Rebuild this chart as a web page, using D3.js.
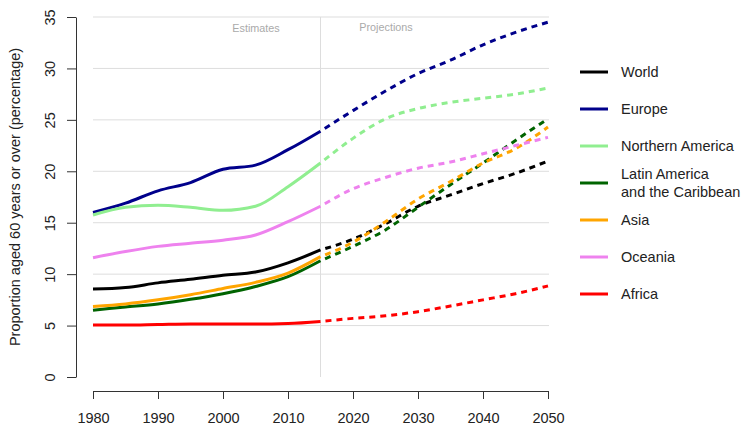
<!DOCTYPE html>
<html>
<head>
<meta charset="utf-8">
<script src="https://cdn.jsdelivr.net/npm/d3@7"></script>
<style>
    body { margin: 0; background: #fff; }
    svg { font-family: "Liberation Sans", Arial, sans-serif; }
</style>
</head>
<body>
<svg id="chart" width="742" height="425"></svg>
<script>
// Years (5-year steps); 2015 is the last estimate
const years = [1980, 1985, 1990, 1995, 2000, 2005, 2010, 2015, 2020, 2025, 2030, 2035, 2040, 2045, 2050];
const splitYear = 2015;

const world = [8.55, 8.7, 9.15, 9.5, 9.9, 10.2, 11.1, 12.35, 13.4, 14.9, 16.6, 17.7, 18.8, 19.8, 21.0];
const europe = [16.0, 16.9, 18.1, 18.9, 20.2, 20.6, 22.1, 23.9, 25.9, 27.8, 29.5, 30.8, 32.3, 33.5, 34.5];
const northAmerica = [15.75, 16.5, 16.7, 16.5, 16.2, 16.6, 18.5, 20.8, 23.2, 25.1, 26.1, 26.7, 27.1, 27.5, 28.1];
const latinAmerica = [6.5, 6.8, 7.1, 7.55, 8.1, 8.8, 9.75, 11.3, 12.7, 14.3, 16.5, 18.7, 20.8, 23.0, 25.1];
const asia = [6.85, 7.1, 7.5, 8.0, 8.6, 9.2, 10.1, 11.7, 13.1, 15.1, 17.3, 19.0, 20.8, 22.2, 24.3];
const oceania = [11.6, 12.2, 12.7, 13.0, 13.3, 13.8, 15.1, 16.6, 18.3, 19.4, 20.3, 20.9, 21.7, 22.5, 23.3];
const africa = [5.05, 5.05, 5.1, 5.15, 5.15, 5.15, 5.2, 5.4, 5.7, 5.95, 6.35, 6.9, 7.5, 8.1, 8.85];

const seriesNames = ["World", "Europe", "Northern America", "Latin America\nand the Caribbean", "Asia", "Oceania", "Africa"];
const seriesValues = [world, europe, northAmerica, latinAmerica, asia, oceania, africa];
const seriesColors = ["#000000", "#00008B", "#90EE90", "#006400", "#FFA500", "#EE82EE", "#FF0000"];

const xTicks = [1980, 1990, 2000, 2010, 2020, 2030, 2040, 2050];
const yTicks = [0, 5, 10, 15, 20, 25, 30, 35];

const svg = d3.select("#chart");

const x = d3.scaleLinear().domain([1980, 2050]).range([93, 548]);
const y = d3.scaleLinear().domain([0, 35]).range([377, 17]);

// grid
svg.append("g")
    .selectAll("line")
    .data(yTicks.filter((d) => d > 0))
    .join("line")
    .attr("x1", x(1980))
    .attr("x2", x(2050) + 1)
    .attr("y1", (d) => y(d))
    .attr("y2", (d) => y(d))
    .attr("stroke", "#dddddd")
    .attr("stroke-width", 1);

svg.append("line")
    .attr("x1", x(splitYear))
    .attr("x2", x(splitYear))
    .attr("y1", y(35))
    .attr("y2", y(0))
    .attr("stroke", "#dddddd")
    .attr("stroke-width", 1);

svg.append("text")
    .attr("x", 256)
    .attr("y", 32)
    .attr("text-anchor", "middle")
    .attr("font-size", 10.8)
    .attr("fill", "#aaaaaa")
    .text("Estimates");

svg.append("text")
    .attr("x", 386)
    .attr("y", 31)
    .attr("text-anchor", "middle")
    .attr("font-size", 10.8)
    .attr("fill", "#aaaaaa")
    .text("Projections");

// axes
const xAxis = d3.axisBottom(x).tickValues(xTicks).tickFormat((d) => d).tickSize(8).tickSizeOuter(0);
const gx = svg.append("g").attr("transform", "translate(0,391)").call(xAxis);
gx.select(".domain").attr("stroke", "#333");
gx.selectAll(".tick line").attr("stroke", "#333");
gx.selectAll(".tick text")
    .attr("font-size", 14.5)
    .attr("fill", "#222")
    .attr("y", 32)
    .attr("dy", null)
    .attr("font-family", "Liberation Sans, Arial, sans-serif");

const yAxis = d3.axisLeft(y).tickValues(yTicks).tickFormat((d) => d).tickSize(9).tickSizeOuter(0);
const gy = svg.append("g").attr("transform", "translate(76,0)").call(yAxis);
gy.select(".domain").attr("stroke", "#333");
gy.selectAll(".tick line").attr("stroke", "#333");
gy.selectAll(".tick text")
    .attr("font-size", 14.5)
    .attr("fill", "#222")
    .attr("font-family", "Liberation Sans, Arial, sans-serif")
    .attr("x", null)
    .attr("dy", null)
    .attr("text-anchor", "middle")
    .attr("transform", "translate(-21,0) rotate(-90)")
    .attr("y", 0);

svg.append("text")
    .attr("transform", "translate(20,197) rotate(-90)")
    .attr("text-anchor", "middle")
    .attr("font-size", 14.5)
    .attr("fill", "#222")
    .text("Proportion aged 60 years or over (percentage)");

// lines
const line = d3
    .line()
    .x((d) => x(d[0]))
    .y((d) => y(d[1]))
    .curve(d3.curveMonotoneX);

const plot = svg.append("g");
seriesValues.forEach((vals, i) => {
    const pts = years.map((yr, j) => [yr, vals[j]]);
    const est = pts.filter((p) => p[0] <= splitYear);
    const proj = pts.filter((p) => p[0] >= splitYear);
    plot.append("path")
        .attr("d", line(est))
        .attr("fill", "none")
        .attr("stroke", seriesColors[i])
        .attr("stroke-width", 3);
    plot.append("path")
        .attr("d", line(proj))
        .attr("fill", "none")
        .attr("stroke", seriesColors[i])
        .attr("stroke-width", 3)
        .attr("stroke-dasharray", "6,5")
        .attr("stroke-dashoffset", -5);
});

// legend
const legendY = [72, 109, 146, 183, 220, 257, 294];
const legend = svg.append("g");
seriesNames.forEach((name, i) => {
    legend.append("line")
        .attr("x1", 580)
        .attr("x2", 608)
        .attr("y1", legendY[i])
        .attr("y2", legendY[i])
        .attr("stroke", seriesColors[i])
        .attr("stroke-width", 3);
    const parts = name.split("\n");
    const t = legend.append("text")
        .attr("font-size", 14.5)
        .attr("fill", "#222");
    parts.forEach((p, k) => {
        t.append("tspan")
            .attr("x", 621)
            .attr("y", legendY[i] + 5 + (k - (parts.length - 1) / 2) * 18)
            .text(p);
    });
});
</script>
</body>
</html>
